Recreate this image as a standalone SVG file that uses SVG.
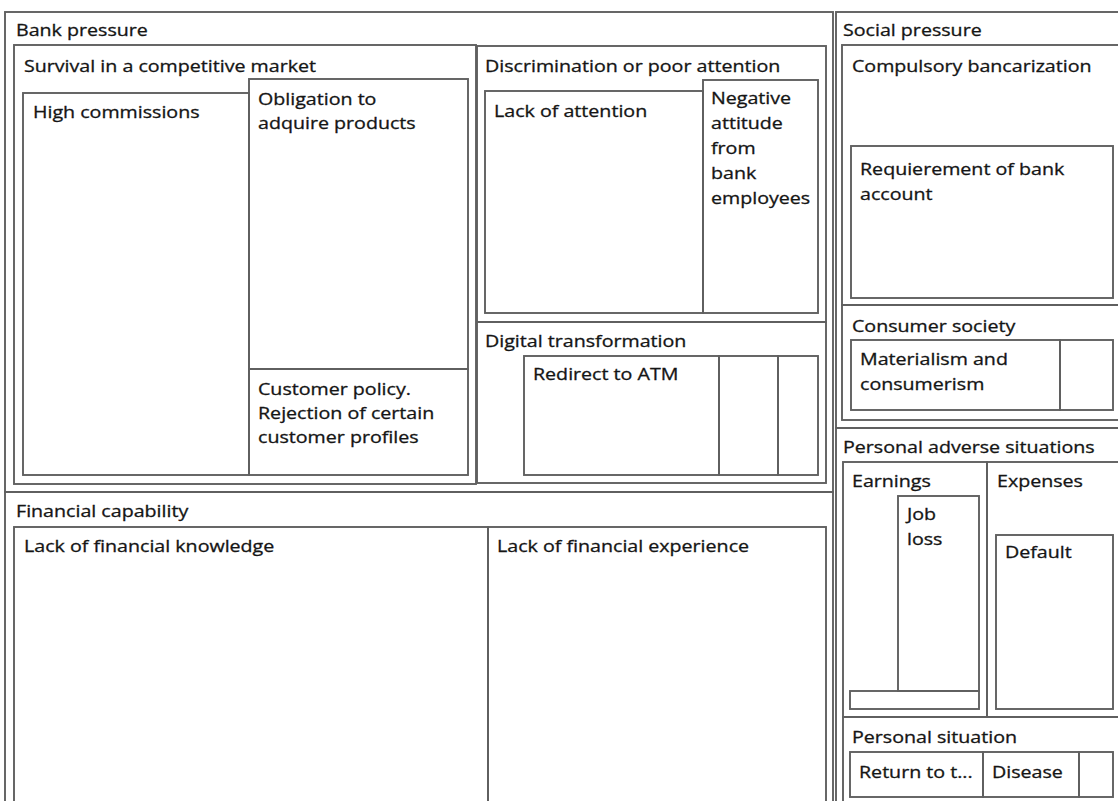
<svg xmlns="http://www.w3.org/2000/svg" width="1118" height="801" viewBox="0 0 1118 801">
<style>
rect{fill:none;stroke:#606060;stroke-width:1.9}
text{font-family:"Open Sans","Noto Sans","Liberation Sans",sans-serif;font-size:16.5px;fill:#151515;stroke:#151515;stroke-width:0.3}
</style>
<rect x="0" y="0" width="1118" height="801" style="fill:#ffffff;stroke:none"/>
<g id="bank-pressure">
<rect x="5" y="12" width="828" height="480"/>
<text transform="scale(1.19 1)" x="13.45" y="36">Bank pressure</text>
</g>
<g id="survival">
<rect x="14" y="45" width="462" height="439"/>
<text transform="scale(1.19 1)" x="20.17" y="72">Survival in a competitive market</text>
</g>
<g id="high-commissions">
<rect x="23" y="93" width="226" height="382"/>
<text transform="scale(1.19 1)" x="27.73" y="118">High commissions</text>
</g>
<g id="obligation">
<rect x="249" y="79" width="219" height="290"/>
<text transform="scale(1.19 1)" x="216.81" y="105">Obligation to</text>
<text transform="scale(1.19 1)" x="216.81" y="129">adquire products</text>
</g>
<g id="customer-policy">
<rect x="249" y="369" width="219" height="106"/>
<text transform="scale(1.19 1)" x="216.81" y="395">Customer policy.</text>
<text transform="scale(1.19 1)" x="216.81" y="419">Rejection of certain</text>
<text transform="scale(1.19 1)" x="216.81" y="443">customer profiles</text>
</g>
<g id="discrimination">
<rect x="477" y="46" width="349" height="276"/>
<text transform="scale(1.19 1)" x="407.56" y="72">Discrimination or poor attention</text>
</g>
<g id="lack-of-attention">
<rect x="485" y="91" width="218" height="222"/>
<text transform="scale(1.19 1)" x="415.13" y="117">Lack of attention</text>
</g>
<g id="negative-attitude">
<rect x="703" y="80" width="115" height="233"/>
<text transform="scale(1.19 1)" x="597.48" y="104">Negative</text>
<text transform="scale(1.19 1)" x="597.48" y="129">attitude</text>
<text transform="scale(1.19 1)" x="597.48" y="154">from</text>
<text transform="scale(1.19 1)" x="597.48" y="179">bank</text>
<text transform="scale(1.19 1)" x="597.48" y="204">employees</text>
</g>
<g id="digital-transformation">
<rect x="477" y="322" width="349" height="161"/>
<text transform="scale(1.19 1)" x="407.56" y="347">Digital transformation</text>
</g>
<g id="redirect-atm">
<rect x="524" y="356" width="195" height="119"/>
<text transform="scale(1.19 1)" x="447.90" y="380">Redirect to ATM</text>
</g>
<g id="digital-2"><rect x="719" y="356" width="59" height="119"/></g>
<g id="digital-3"><rect x="778" y="356" width="40" height="119"/></g>
<g id="financial-capability">
<rect x="5" y="492" width="828" height="330"/>
<text transform="scale(1.19 1)" x="13.45" y="517">Financial capability</text>
</g>
<g id="lack-financial-knowledge">
<rect x="14" y="527" width="474" height="290"/>
<text transform="scale(1.19 1)" x="20.17" y="552">Lack of financial knowledge</text>
</g>
<g id="lack-financial-experience">
<rect x="488" y="527" width="338" height="290"/>
<text transform="scale(1.19 1)" x="417.65" y="552">Lack of financial experience</text>
</g>
<g id="social-pressure">
<rect x="836" y="12" width="300" height="416"/>
<text transform="scale(1.19 1)" x="708.40" y="36">Social pressure</text>
</g>
<g id="compulsory-bancarization">
<rect x="842" y="45" width="290" height="260"/>
<text transform="scale(1.19 1)" x="715.97" y="72">Compulsory bancarization</text>
</g>
<g id="requierement-bank-account">
<rect x="851" y="146" width="262" height="152"/>
<text transform="scale(1.19 1)" x="722.69" y="175">Requierement of bank</text>
<text transform="scale(1.19 1)" x="722.69" y="200">account</text>
</g>
<g id="consumer-society">
<rect x="842" y="305" width="290" height="115"/>
<text transform="scale(1.19 1)" x="715.97" y="332">Consumer society</text>
</g>
<g id="materialism">
<rect x="851" y="340" width="209" height="70"/>
<text transform="scale(1.19 1)" x="722.69" y="365">Materialism and</text>
<text transform="scale(1.19 1)" x="722.69" y="390">consumerism</text>
</g>
<g id="consumer-2"><rect x="1060" y="340" width="53" height="70"/></g>
<g id="personal-adverse">
<rect x="836" y="428" width="300" height="400"/>
<text transform="scale(1.19 1)" x="708.40" y="453">Personal adverse situations</text>
</g>
<g id="earnings">
<rect x="843" y="462" width="144" height="255"/>
<text transform="scale(1.19 1)" x="715.97" y="487">Earnings</text>
</g>
<g id="job-loss">
<rect x="898" y="496" width="81" height="195"/>
<text transform="scale(1.19 1)" x="762.18" y="520">Job</text>
<text transform="scale(1.19 1)" x="762.18" y="545">loss</text>
</g>
<g id="earnings-2"><rect x="850" y="691" width="129" height="18"/></g>
<g id="expenses">
<rect x="987" y="462" width="145" height="255"/>
<text transform="scale(1.19 1)" x="837.82" y="487">Expenses</text>
</g>
<g id="default">
<rect x="996" y="535" width="117" height="174"/>
<text transform="scale(1.19 1)" x="844.54" y="558">Default</text>
</g>
<g id="personal-situation">
<rect x="843" y="717" width="290" height="110"/>
<text transform="scale(1.19 1)" x="715.97" y="743">Personal situation</text>
</g>
<g id="return">
<rect x="850" y="752" width="133" height="45"/>
<text transform="scale(1.19 1)" x="721.85" y="778">Return to t...</text>
</g>
<g id="disease">
<rect x="983" y="752" width="96" height="45"/>
<text transform="scale(1.19 1)" x="833.61" y="778">Disease</text>
</g>
<g id="personal-3"><rect x="1079" y="752" width="34" height="45"/></g>
<g id="connectors"></g>
</svg>
